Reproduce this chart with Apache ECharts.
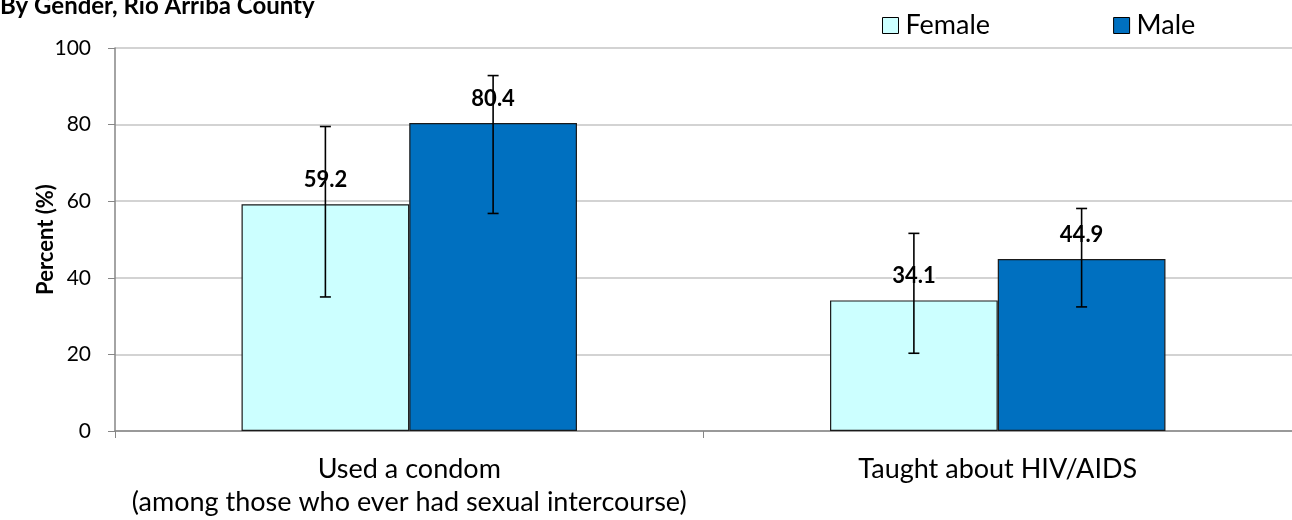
<!DOCTYPE html>
<html><head><meta charset="utf-8">
<script src="https://cdn.jsdelivr.net/npm/echarts@6/dist/echarts.min.js"></script>
<style>html,body{margin:0;padding:0;background:#fff}#c{width:1292px;height:520px}</style>
</head><body><div id="c"></div>
<script>
const categories = ['Used a condom\n(among those who ever had sexual intercourse)', 'Taught about HIV/AIDS'];
const femaleValues = [59.2, 34.1];
const maleValues = [80.4, 44.9];
const femaleLow = [35.0, 20.3];
const femaleHigh = [79.5, 51.6];
const maleLow = [56.8, 32.4];
const maleHigh = [92.8, 58.1];
const yTicks = [0, 20, 40, 60, 80, 100];

const FONT = 'Lato, "Open Sans", sans-serif';
const catGap = 0.43;

function errSeries(name, low, high, side) {
  return {
    type: 'custom', name: name + ' CI', z: 3,
    data: low.map((l, i) => [i, l, high[i]]),
    encode: { x: 0, y: [1, 2] },
    renderItem: function (params, api) {
      const i = api.value(0);
      const band = api.size([1, 0])[0];
      const bw = band * (1 - catGap) / 2;
      const c0 = api.coord([i, api.value(1)]);
      const c1 = api.coord([i, api.value(2)]);
      const x = c0[0] + side * bw / 2;
      const cap = 5.5;
      const st = { stroke: '#000', lineWidth: 1.6 };
      return { type: 'group', children: [
        { type: 'line', shape: { x1: x, y1: c0[1], x2: x, y2: c1[1] }, style: st },
        { type: 'line', shape: { x1: x - cap, y1: c0[1], x2: x + cap, y2: c0[1] }, style: st },
        { type: 'line', shape: { x1: x - cap, y1: c1[1], x2: x + cap, y2: c1[1] }, style: st }
      ]};
    },
    silent: true, tooltip: { show: false }
  };
}

const chart = echarts.init(document.getElementById('c'));
chart.setOption({
  animation: false,
  title: { text: 'By Gender, Rio Arriba County', left: 0, top: -6, padding: 0,
    textStyle: { fontFamily: FONT, fontSize: 24, fontWeight: 'bold', color: '#000' } },
  legend: {
    data: ['Female', 'Male'], top: 7, left: 877, itemGap: 123,
    icon: 'rect', itemWidth: 16, itemHeight: 16,
    textStyle: { fontFamily: FONT, fontSize: 27, color: '#000', padding: [0, 0, 0, 2] },
    itemStyle: { borderColor: '#000', borderWidth: 1 }
  },
  grid: { left: 115, right: 0, top: 48, bottom: 89 },
  xAxis: {
    type: 'category', data: categories,
    axisLine: { lineStyle: { color: '#868686', width: 1.5 } },
    axisTick: { show: true, length: 7, lineStyle: { color: '#868686' } },
    axisLabel: { interval: 0, fontFamily: FONT, fontSize: 27, color: '#000', lineHeight: 33, margin: 22 }
  },
  yAxis: {
    type: 'value', min: 0, max: 100, interval: 20,
    name: 'Percent (%)', nameLocation: 'middle', nameGap: 58, nameMoveOverlap: false,
    nameTextStyle: { fontFamily: FONT, fontSize: 22, fontWeight: 'bold', color: '#000' },
    axisLine: { show: true, lineStyle: { color: '#868686', width: 1.5 } },
    axisTick: { show: true, length: 7, inside: false, lineStyle: { color: '#868686' } },
    splitLine: { lineStyle: { color: '#c4c4c4', width: 1.5 } },
    axisLabel: { fontFamily: FONT, fontSize: 21, color: '#000', margin: 24,
      formatter: v => yTicks.includes(v) ? String(v) : '' }
  },
  series: [
    { name: 'Female', type: 'bar', data: femaleValues, barGap: '0%', barCategoryGap: '43%', z: 2,
      itemStyle: { color: '#CCFFFF', borderColor: '#1a1a1a', borderWidth: 1.2 },
      label: { show: true, position: 'top', distance: 13, fontFamily: FONT, fontSize: 22, fontWeight: 'bold', color: '#000',
        backgroundColor: 'rgba(255,255,255,0.55)' } },
    { name: 'Male', type: 'bar', data: maleValues, z: 2,
      itemStyle: { color: '#0070C0', borderColor: '#1a1a1a', borderWidth: 1.2 },
      label: { show: true, position: 'top', distance: 13, fontFamily: FONT, fontSize: 22, fontWeight: 'bold', color: '#000',
        backgroundColor: 'rgba(255,255,255,0.55)' } },
    errSeries('Female', femaleLow, femaleHigh, -1),
    errSeries('Male', maleLow, maleHigh, 1)
  ]
});
</script></body></html>
